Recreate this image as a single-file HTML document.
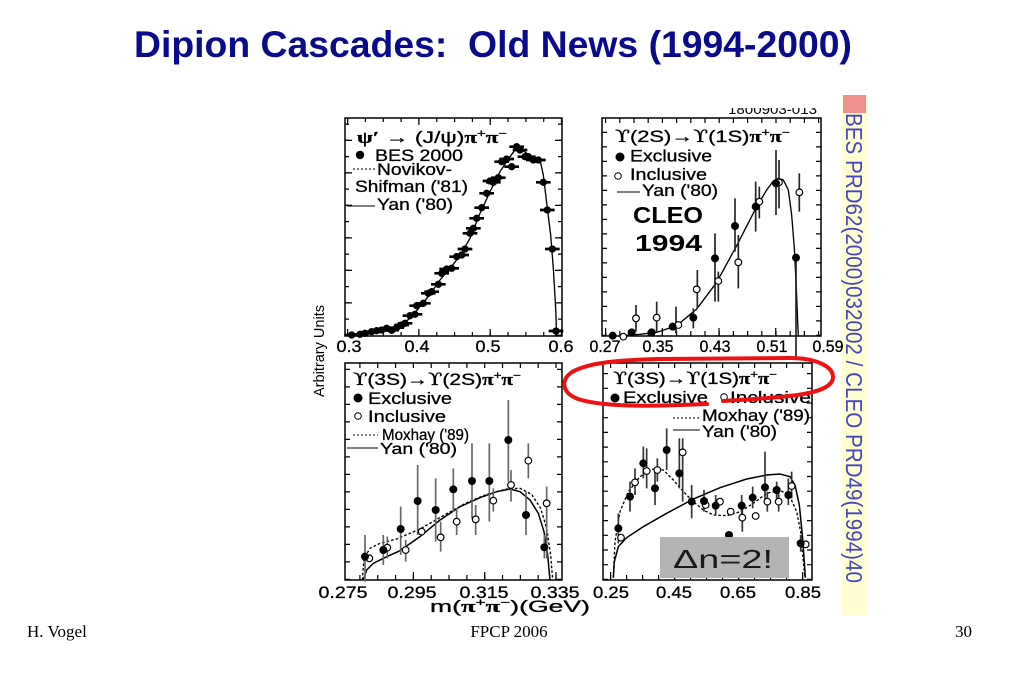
<!DOCTYPE html>
<html>
<head>
<meta charset="utf-8">
<style>
html,body{margin:0;padding:0;background:#fff;}
svg{display:block;}
text{font-family:"Liberation Sans","DejaVu Sans",sans-serif;}
</style>
</head>
<body>
<svg width="1023" height="682" viewBox="0 0 1023 682" xmlns="http://www.w3.org/2000/svg">
<rect x="0" y="0" width="1023" height="682" fill="#fff"/>

<!-- Title -->
<text x="134" y="57" font-size="37" font-weight="bold" fill="#0a0a8c" textLength="718" lengthAdjust="spacingAndGlyphs" xml:space="preserve">Dipion Cascades:  Old News (1994-2000)</text>

<!-- yellow band & citation -->
<rect x="842" y="95" width="25" height="520" fill="#ffffd2"/>
<rect x="843" y="95" width="23" height="18" fill="#f09090"/>
<text transform="translate(846,113) rotate(90)" font-size="23" fill="#4444c4" textLength="470" lengthAdjust="spacingAndGlyphs">BES PRD62(2000)032002 / CLEO PRD49(1994)40</text>

<!-- top clipped label -->
<text x="728" y="114" font-size="14" textLength="89" lengthAdjust="spacingAndGlyphs">1800903-013</text>
<rect x="700" y="94" width="135" height="14" fill="#fff"/>

<!-- Frames -->
<g fill="none" stroke="#000" stroke-width="1.5">
<rect x="345" y="118" width="217" height="218"/>
<rect x="602" y="118" width="219" height="218"/>
<rect x="345" y="363" width="217" height="217"/>
<rect x="603" y="363" width="209" height="217"/>
</g>

<!-- Ticks -->
<g stroke="#000" fill="none">
<line x1="347" y1="336" x2="347" y2="118" stroke-width="4" stroke-dasharray="1.2 15.05"/>
<line x1="348.5" y1="336" x2="348.5" y2="118" stroke-width="7" stroke-dasharray="1.2 31.3"/>
<line x1="560" y1="336" x2="560" y2="118" stroke-width="4" stroke-dasharray="1.2 15.05"/>
<line x1="558.5" y1="336" x2="558.5" y2="118" stroke-width="7" stroke-dasharray="1.2 31.3"/>
<line x1="347" y1="334" x2="562" y2="334" stroke-width="4" stroke-dasharray="1.2 16.63"/>
<line x1="347" y1="332.5" x2="562" y2="332.5" stroke-width="7" stroke-dasharray="1.2 70.1"/>
<line x1="347" y1="120" x2="562" y2="120" stroke-width="4" stroke-dasharray="1.2 16.63"/>
<line x1="347" y1="121.5" x2="562" y2="121.5" stroke-width="7" stroke-dasharray="1.2 70.1"/>
<line x1="604.5" y1="336" x2="604.5" y2="118" stroke-width="5" stroke-dasharray="1.2 13.3"/>
<line x1="818.5" y1="336" x2="818.5" y2="118" stroke-width="5" stroke-dasharray="1.2 13.3"/>
<line x1="605" y1="333.5" x2="821" y2="333.5" stroke-width="5" stroke-dasharray="1.2 13"/>
<line x1="605" y1="332" x2="821" y2="332" stroke-width="8" stroke-dasharray="1.2 55.5"/>
<line x1="605" y1="120.5" x2="821" y2="120.5" stroke-width="5" stroke-dasharray="1.2 13"/>
<line x1="347.5" y1="580" x2="347.5" y2="363" stroke-width="5" stroke-dasharray="1.2 16.3"/>
<line x1="559.5" y1="580" x2="559.5" y2="363" stroke-width="5" stroke-dasharray="1.2 16.3"/>
<line x1="359.3" y1="577.5" x2="562" y2="577.5" stroke-width="5" stroke-dasharray="1.2 16.63"/>
<line x1="412.8" y1="576" x2="562" y2="576" stroke-width="8" stroke-dasharray="1.2 70.1"/>
<line x1="359.3" y1="365.5" x2="562" y2="365.5" stroke-width="5" stroke-dasharray="1.2 16.63"/>
<line x1="605.5" y1="580" x2="605.5" y2="363" stroke-width="5" stroke-dasharray="1.2 13.5"/>
<line x1="809.5" y1="580" x2="809.5" y2="363" stroke-width="5" stroke-dasharray="1.2 13.5"/>
<line x1="610" y1="577.5" x2="812" y2="577.5" stroke-width="5" stroke-dasharray="1.2 14.8"/>
<line x1="610" y1="576" x2="812" y2="576" stroke-width="8" stroke-dasharray="1.2 62.8"/>
<line x1="610" y1="365.5" x2="812" y2="365.5" stroke-width="5" stroke-dasharray="1.2 14.8"/>
</g>

<!-- TL data -->
<g transform="translate(310,95) scale(0.33333)">
<polyline fill="none" stroke="#000" stroke-width="4" points="120,722 160,715 200,708 240,702 270,692 300,670 330,635 360,598 390,555 420,520 450,482 480,430 510,355 540,290 570,230 600,185 620,158 640,168 665,185 690,195 700,240 712,340 722,420 730,520 737,640 740,722"/>
<g fill="#000" stroke="#000" stroke-width="8">
<path d="M103,720h44M128,718h44M143,715h44M163,710h44M178,707h44M193,705h44M208,700h44M223,706h44M238,698h44M253,690h44M263,685h44M278,662h44M293,658h44M298,632h44M318,625h44M333,595h44M343,590h44M363,568h44M373,535h44M388,522h44M403,520h44M418,485h44M433,480h44M443,462h44M458,415h44M468,400h44M478,370h44M493,338h44M508,295h44M518,258h44M528,262h44M543,248h44M553,200h44M568,192h44M583,215h44M598,155h44M608,165h44M623,185h44M633,185h44M648,195h44M663,195h44M678,262h44M690,345h44M705,462h44M716,708h44"/>
</g>
<g fill="#000">
<circle cx="125" cy="720" r="11"/><circle cx="150" cy="718" r="11"/><circle cx="165" cy="715" r="11"/><circle cx="185" cy="710" r="11"/><circle cx="200" cy="707" r="11"/><circle cx="215" cy="705" r="11"/><circle cx="230" cy="700" r="11"/><circle cx="245" cy="706" r="11"/><circle cx="260" cy="698" r="11"/><circle cx="275" cy="690" r="11"/><circle cx="285" cy="685" r="11"/><circle cx="300" cy="662" r="11"/><circle cx="315" cy="658" r="11"/><circle cx="320" cy="632" r="11"/><circle cx="340" cy="625" r="11"/><circle cx="355" cy="595" r="11"/><circle cx="365" cy="590" r="11"/><circle cx="385" cy="568" r="11"/><circle cx="395" cy="535" r="11"/><circle cx="410" cy="522" r="11"/><circle cx="425" cy="520" r="11"/><circle cx="440" cy="485" r="11"/><circle cx="455" cy="480" r="11"/><circle cx="465" cy="462" r="11"/><circle cx="480" cy="415" r="11"/><circle cx="490" cy="400" r="11"/><circle cx="500" cy="370" r="11"/><circle cx="515" cy="338" r="11"/><circle cx="530" cy="295" r="11"/><circle cx="540" cy="258" r="11"/><circle cx="550" cy="262" r="11"/><circle cx="565" cy="248" r="11"/><circle cx="575" cy="200" r="11"/><circle cx="590" cy="192" r="11"/><circle cx="605" cy="215" r="11"/><circle cx="620" cy="155" r="11"/><circle cx="630" cy="165" r="11"/><circle cx="645" cy="185" r="11"/><circle cx="655" cy="185" r="11"/><circle cx="670" cy="195" r="11"/><circle cx="685" cy="195" r="11"/><circle cx="700" cy="262" r="11"/><circle cx="712" cy="345" r="11"/><circle cx="727" cy="462" r="11"/><circle cx="738" cy="708" r="11"/>
</g>
</g>

<!-- TR data -->
<g transform="translate(590,95) scale(0.33333)">
<polyline fill="none" stroke="#000" stroke-width="4" points="95,722 150,718 200,712 260,692 320,642 380,562 440,452 500,335 530,285 550,258 565,250 580,255 595,285 605,360 613,460 619,580 623,680 625,722"/>
<path stroke="#222" stroke-width="5" fill="none" d="M138,630V710M200,620V712M258,635V715M310,640V700M322,525V640M375,415V620M385,530V620M435,310V470M445,420V580M497,260V410M508,275V370M558,165V360M567,195V340M618,488V790M628,235V350"/>
<g fill="#fff" stroke="#000" stroke-width="3.5">
<circle cx="100" cy="725" r="10"/><circle cx="138" cy="670" r="10"/><circle cx="200" cy="668" r="10"/><circle cx="265" cy="690" r="10"/><circle cx="320" cy="583" r="10"/><circle cx="385" cy="558" r="10"/><circle cx="445" cy="502" r="10"/><circle cx="508" cy="320" r="10"/><circle cx="567" cy="262" r="10"/><circle cx="628" cy="292" r="10"/>
</g>
<g fill="#000">
<circle cx="68" cy="722" r="12"/><circle cx="125" cy="712" r="12"/><circle cx="185" cy="712" r="12"/><circle cx="248" cy="695" r="12"/><circle cx="310" cy="668" r="12"/><circle cx="375" cy="490" r="12"/><circle cx="435" cy="393" r="12"/><circle cx="497" cy="335" r="12"/><circle cx="558" cy="265" r="12"/><circle cx="618" cy="488" r="12"/>
</g>
</g>

<!-- BL data -->
<g transform="translate(310,355) scale(0.33333)">
<polyline fill="none" stroke="#000" stroke-width="4.5" points="160,675 170,645 190,625 220,610 270,587 330,545 390,495 450,455 510,428 560,410 600,402 630,410 660,435 685,475 702,530 713,600 720,675"/>
<polyline fill="none" stroke="#000" stroke-width="4" stroke-dasharray="8 6" points="157,675 162,610 180,580 210,565 260,552 330,522 400,482 470,443 530,418 590,402 630,400 665,418 692,460 710,520 722,600 728,675"/>
<path stroke="#666" stroke-width="5" fill="none" d="M165,540V680M220,540V630M272,455V600M323,330V540M377,370V560M430,340V470M486,265V490M538,265V500M595,135V380M648,410V540M703,540V610M232,545V610M287,555V620M392,500V590M440,460V540M497,450V540M550,400V470M603,345V440M655,265V370M710,395V610"/>
<g fill="#fff" stroke="#000" stroke-width="3.5">
<circle cx="178" cy="610" r="10"/><circle cx="232" cy="578" r="10"/><circle cx="287" cy="585" r="10"/><circle cx="335" cy="530" r="10"/><circle cx="392" cy="547" r="10"/><circle cx="440" cy="500" r="10"/><circle cx="497" cy="493" r="10"/><circle cx="550" cy="437" r="10"/><circle cx="603" cy="390" r="10"/><circle cx="655" cy="317" r="10"/><circle cx="710" cy="445" r="10"/>
</g>
<g fill="#000">
<circle cx="165" cy="605" r="12"/><circle cx="220" cy="585" r="12"/><circle cx="272" cy="522" r="12"/><circle cx="323" cy="438" r="12"/><circle cx="377" cy="465" r="12"/><circle cx="430" cy="403" r="12"/><circle cx="486" cy="378" r="12"/><circle cx="538" cy="378" r="12"/><circle cx="595" cy="255" r="12"/><circle cx="648" cy="480" r="12"/><circle cx="703" cy="577" r="12"/>
</g>
</g>

<!-- BR data -->
<g transform="translate(560,355) scale(0.33333)">
<polyline fill="none" stroke="#000" stroke-width="4" stroke-dasharray="8 6" points="160,668 165,560 180,470 205,410 240,365 280,342 310,345 340,375 370,410 400,440 430,465 460,480 500,482 540,470 580,445 620,415 660,405 690,425 710,470 722,530 730,620 735,668"/>
<polyline fill="none" stroke="#000" stroke-width="4.5" points="160,668 163,620 175,575 200,548 250,515 320,475 400,432 480,398 560,372 620,360 660,357 690,365 705,390 718,450 727,540 733,620 736,668"/>
<path stroke="#333" stroke-width="5" fill="none" d="M175,475V565M210,380V470M250,275V370M285,350V450M320,220V345M358,250V400M395,390V490M432,405V470M467,420V480M545,420V480M578,395V460M615,290V440M650,380V440M685,370V450M722,540V590M225,340V420M260,280V400M292,310V380M368,250V440M547,440V530M622,410V470M656,410V470M695,350V430"/>
<g fill="#fff" stroke="#000" stroke-width="3.5">
<circle cx="183" cy="548" r="10"/><circle cx="225" cy="382" r="10"/><circle cx="260" cy="348" r="10"/><circle cx="292" cy="345" r="10"/><circle cx="368" cy="292" r="10"/><circle cx="437" cy="450" r="10"/><circle cx="480" cy="440" r="10"/><circle cx="512" cy="470" r="10"/><circle cx="547" cy="488" r="10"/><circle cx="587" cy="483" r="10"/><circle cx="622" cy="440" r="10"/><circle cx="656" cy="440" r="10"/><circle cx="695" cy="393" r="10"/><circle cx="737" cy="568" r="10"/>
</g>
<g fill="#000">
<circle cx="175" cy="520" r="12"/><circle cx="210" cy="425" r="12"/><circle cx="250" cy="325" r="12"/><circle cx="285" cy="400" r="12"/><circle cx="320" cy="285" r="12"/><circle cx="358" cy="355" r="12"/><circle cx="395" cy="440" r="12"/><circle cx="432" cy="438" r="12"/><circle cx="467" cy="452" r="12"/><circle cx="507" cy="540" r="12"/><circle cx="545" cy="452" r="12"/><circle cx="578" cy="428" r="12"/><circle cx="615" cy="397" r="12"/><circle cx="650" cy="405" r="12"/><circle cx="685" cy="420" r="12"/><circle cx="722" cy="565" r="12"/>
</g>
</g>

<!-- Gray box -->
<rect x="660" y="537" width="129" height="41" fill="#b4b4b4"/>
<text x="673" y="568" font-size="26" fill="#1a1a1a" textLength="100" lengthAdjust="spacingAndGlyphs">Δn=2!</text>

<!-- Legends TL -->
<g font-size="17" fill="#000" stroke="#000" stroke-width="0.3">
<text x="357" y="143" textLength="150" lengthAdjust="spacingAndGlyphs"><tspan font-family="Liberation Serif,DejaVu Serif,serif" font-weight="bold">ψ′</tspan> → (J/ψ)<tspan font-family="Liberation Serif,DejaVu Serif,serif" font-weight="bold">π</tspan><tspan dy="-6" font-size="11">+</tspan><tspan dy="6" font-family="Liberation Serif,DejaVu Serif,serif" font-weight="bold">π</tspan><tspan dy="-6" font-size="11">−</tspan></text>
<text x="375" y="161" textLength="88" lengthAdjust="spacingAndGlyphs">BES 2000</text>
<text x="377" y="175" textLength="75" lengthAdjust="spacingAndGlyphs">Novikov-</text>
<text x="355" y="192" textLength="113" lengthAdjust="spacingAndGlyphs">Shifman ('81)</text>
<text x="377" y="210" textLength="76" lengthAdjust="spacingAndGlyphs">Yan ('80)</text>
</g>
<circle cx="360" cy="155" r="4.2" fill="#000"/>
<line x1="353" y1="169" x2="375" y2="169" stroke="#000" stroke-width="1" stroke-dasharray="2 2"/>
<line x1="347" y1="206" x2="375" y2="206" stroke="#000" stroke-width="1"/>

<!-- Legends TR -->
<g font-size="17" fill="#000" stroke="#000" stroke-width="0.3">
<text x="615" y="142" textLength="175" lengthAdjust="spacingAndGlyphs"><tspan font-family="DejaVu Serif,serif">ϒ</tspan>(2S)→<tspan font-family="DejaVu Serif,serif">ϒ</tspan>(1S)<tspan font-family="Liberation Serif,DejaVu Serif,serif" font-weight="bold">π</tspan><tspan dy="-6" font-size="11">+</tspan><tspan dy="6" font-family="Liberation Serif,DejaVu Serif,serif" font-weight="bold">π</tspan><tspan dy="-6" font-size="11">−</tspan></text>
<text x="630" y="161.5" textLength="82" lengthAdjust="spacingAndGlyphs">Exclusive</text>
<text x="630" y="180" textLength="77" lengthAdjust="spacingAndGlyphs">Inclusive</text>
<text x="642" y="196" textLength="76" lengthAdjust="spacingAndGlyphs">Yan ('80)</text>
</g>
<text x="633" y="223" font-size="23" font-weight="bold" textLength="70" lengthAdjust="spacingAndGlyphs">CLEO</text>
<text x="635" y="251" font-size="23" font-weight="bold" textLength="67" lengthAdjust="spacingAndGlyphs">1994</text>
<circle cx="620" cy="157" r="4.5" fill="#000"/>
<circle cx="618" cy="176" r="3.3" fill="#fff" stroke="#000" stroke-width="1"/>
<line x1="617" y1="192" x2="640" y2="192" stroke="#000" stroke-width="1"/>

<!-- Legends BL -->
<g font-size="17" fill="#000" stroke="#000" stroke-width="0.3">
<text x="353" y="385" textLength="168" lengthAdjust="spacingAndGlyphs"><tspan font-family="DejaVu Serif,serif">ϒ</tspan>(3S)→<tspan font-family="DejaVu Serif,serif">ϒ</tspan>(2S)<tspan font-family="Liberation Serif,DejaVu Serif,serif" font-weight="bold">π</tspan><tspan dy="-6" font-size="11">+</tspan><tspan dy="6" font-family="Liberation Serif,DejaVu Serif,serif" font-weight="bold">π</tspan><tspan dy="-6" font-size="11">−</tspan></text>
<text x="368" y="404" textLength="84" lengthAdjust="spacingAndGlyphs">Exclusive</text>
<text x="368" y="422" textLength="78" lengthAdjust="spacingAndGlyphs">Inclusive</text>
</g>
<g font-size="16" fill="#000" stroke="#000" stroke-width="0.3">
<text x="382" y="440" textLength="87" lengthAdjust="spacingAndGlyphs">Moxhay ('89)</text>
<text x="380" y="454" textLength="77" lengthAdjust="spacingAndGlyphs">Yan ('80)</text>
</g>
<circle cx="358" cy="398" r="4.5" fill="#000"/>
<circle cx="358" cy="416" r="3.3" fill="#fff" stroke="#000" stroke-width="1"/>
<line x1="353" y1="435" x2="378" y2="435" stroke="#000" stroke-width="1" stroke-dasharray="2 2"/>
<line x1="347" y1="448" x2="378" y2="448" stroke="#000" stroke-width="1"/>

<!-- Legends BR -->
<g font-size="17" fill="#000" stroke="#000" stroke-width="0.3">
<text x="613" y="384" textLength="164" lengthAdjust="spacingAndGlyphs"><tspan font-family="DejaVu Serif,serif">ϒ</tspan>(3S)→<tspan font-family="DejaVu Serif,serif">ϒ</tspan>(1S)<tspan font-family="Liberation Serif,DejaVu Serif,serif" font-weight="bold">π</tspan><tspan dy="-6" font-size="11">+</tspan><tspan dy="6" font-family="Liberation Serif,DejaVu Serif,serif" font-weight="bold">π</tspan><tspan dy="-6" font-size="11">−</tspan></text>
<text x="623" y="403" textLength="85" lengthAdjust="spacingAndGlyphs">Exclusive</text>
<text x="730" y="403" textLength="81" lengthAdjust="spacingAndGlyphs">Inclusive</text>
<text x="702" y="421" textLength="108" lengthAdjust="spacingAndGlyphs">Moxhay ('89)</text>
<text x="702" y="437" textLength="75" lengthAdjust="spacingAndGlyphs">Yan ('80)</text>
</g>
<circle cx="615" cy="398" r="4.5" fill="#000"/>
<circle cx="724" cy="397" r="3.3" fill="#fff" stroke="#000" stroke-width="1"/>
<line x1="673" y1="418" x2="700" y2="418" stroke="#000" stroke-width="1" stroke-dasharray="2 2"/>
<line x1="673" y1="430" x2="700" y2="430" stroke="#000" stroke-width="1"/>

<!-- Axis labels -->
<g font-size="17" fill="#000" stroke="#000" stroke-width="0.3" text-anchor="middle">
<text x="349" y="352" textLength="25" lengthAdjust="spacingAndGlyphs">0.3</text>
<text x="417" y="352" textLength="25" lengthAdjust="spacingAndGlyphs">0.4</text>
<text x="488" y="352" textLength="25" lengthAdjust="spacingAndGlyphs">0.5</text>
<text x="561" y="352" textLength="25" lengthAdjust="spacingAndGlyphs">0.6</text>
<text x="605" y="352" textLength="31" lengthAdjust="spacingAndGlyphs">0.27</text>
<text x="658" y="352" textLength="31" lengthAdjust="spacingAndGlyphs">0.35</text>
<text x="715" y="352" textLength="31" lengthAdjust="spacingAndGlyphs">0.43</text>
<text x="772" y="352" textLength="31" lengthAdjust="spacingAndGlyphs">0.51</text>
<text x="828" y="352" textLength="31" lengthAdjust="spacingAndGlyphs">0.59</text>
<text x="343" y="598" textLength="49" lengthAdjust="spacingAndGlyphs">0.275</text>
<text x="412" y="598" textLength="49" lengthAdjust="spacingAndGlyphs">0.295</text>
<text x="484" y="598" textLength="49" lengthAdjust="spacingAndGlyphs">0.315</text>
<text x="555" y="598" textLength="49" lengthAdjust="spacingAndGlyphs">0.335</text>
<text x="611" y="598" textLength="36" lengthAdjust="spacingAndGlyphs">0.25</text>
<text x="674" y="598" textLength="36" lengthAdjust="spacingAndGlyphs">0.45</text>
<text x="738" y="598" textLength="36" lengthAdjust="spacingAndGlyphs">0.65</text>
<text x="803" y="598" textLength="36" lengthAdjust="spacingAndGlyphs">0.85</text>
</g>
<text x="430" y="612" font-size="17" stroke="#000" stroke-width="0.3" textLength="160" lengthAdjust="spacingAndGlyphs">m(<tspan font-family="Liberation Serif,DejaVu Serif,serif" font-weight="bold">π</tspan><tspan dy="-6" font-size="11">+</tspan><tspan dy="6" font-family="Liberation Serif,DejaVu Serif,serif" font-weight="bold">π</tspan><tspan dy="-6" font-size="11">−</tspan><tspan dy="6">)(GeV)</tspan></text>
<text transform="translate(324,351) rotate(-90)" text-anchor="middle" font-size="15" textLength="92" lengthAdjust="spacingAndGlyphs">Arbitrary Units</text>

<!-- Red loop -->
<path d="M707,404 C660,406 605,408 578,399 C562,393 560,380 572,372 C590,362 620,360 660,359 L790,358 C815,358 833,366 833,377 C833,388 815,393 790,396 C760,399 740,400 723,401" fill="none" stroke="#ee1111" stroke-width="4" stroke-linecap="round"/>

<!-- Footer -->
<g font-size="17" fill="#000">
<text x="27" y="637" style="font-family:'Liberation Serif',serif">H. Vogel</text>
<text x="509" y="637" text-anchor="middle" style="font-family:'Liberation Serif',serif">FPCP 2006</text>
<text x="955" y="637" style="font-family:'Liberation Serif',serif">30</text>
</g>
</svg>
</body>
</html>
